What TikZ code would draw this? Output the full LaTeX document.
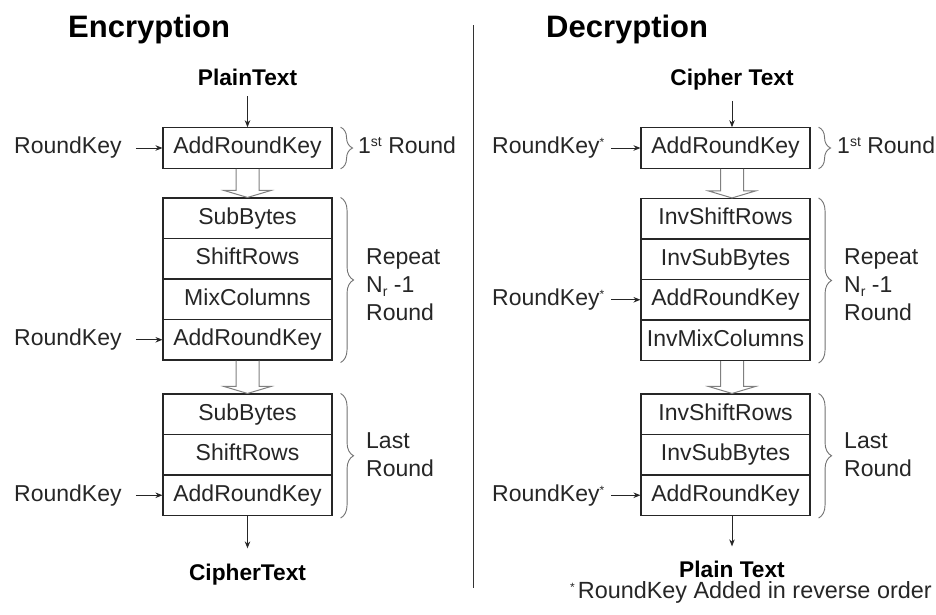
\documentclass[tikz,border=0pt]{standalone}
\usepackage{fontspec}
\setmainfont{Liberation Sans}
\usetikzlibrary{arrows.meta,decorations.pathreplacing,calc}
\newcommand\hollowarrow[3]{\path[hollow] let \p1=(#1), \p2=(#2), \p3=(#3) in
  (\x3-11.5pt,\y1) -- (\x3-11.5pt,\y2+7pt) -- (\x3-23.5pt,\y2+7pt) -- (\x3,\y2)
  -- (\x3+23.5pt,\y2+7pt) -- (\x3+11.5pt,\y2+7pt) -- (\x3+11.5pt,\y1);}
\newcommand\supst{\raisebox{7pt}{\fontsize{14}{14}\selectfont st}}
\newcommand\subr{\raisebox{-4pt}{\fontsize{14}{14}\selectfont r}}
\newcommand\keystar{\raisebox{7pt}{\fontsize{12}{12}\selectfont *}}
\begin{document}
\begin{tikzpicture}[x=1pt,y=-1pt,
  every node/.style={font=\fontsize{23}{28}\selectfont, text=black!85},
  stage/.style={draw=black!85, line width=1.1pt, minimum width=169pt, minimum height=40.5pt,
    inner sep=0pt, text height=16.5pt, text depth=4.8pt},
  arr/.style={-{Stealth[length=7pt,width=5.5pt]}, line width=0.9pt, draw=black!85},
  hollow/.style={draw=black!50, line width=1pt, line join=miter},
  brc/.style={decorate, decoration={brace, amplitude=#1}, draw=black!55, line width=0.9pt},
  brc/.default=13pt,
  title/.style={font=\fontsize{31}{36}\selectfont\bfseries, text=black, anchor=base west, inner sep=0pt},
  io/.style={font=\fontsize{22.7}{27}\selectfont\bfseries, text=black, anchor=base, inner sep=0pt},
  lbl/.style={anchor=west, inner sep=0pt, text height=16.5pt, text depth=4.8pt},
  note/.style={anchor=west, inner sep=0pt, align=left},
]
\useasboundingbox (0,0) rectangle (936,614);
\fill[white] (0,0) rectangle (936,614);

% divider
\draw[line width=1pt, black!80] (473,25) -- (473,588);

% ---------------- Encryption ----------------
\node[title] (enct) at (68,37.5) {Encryption};
\node[io] (pt) at (247.5,85) {PlainText};
\node[stage] (e1) at (247.5,148) {AddRoundKey};
\node[stage] (e2a) at (247.5,218.25) {SubBytes};
\node[stage] (e2b) at (247.5,258.75) {ShiftRows};
\node[stage] (e2c) at (247.5,299.25) {MixColumns};
\node[stage] (e2d) at (247.5,339.75) {AddRoundKey};
\node[stage] (e3a) at (247.5,414.25) {SubBytes};
\node[stage] (e3b) at (247.5,454.75) {ShiftRows};
\node[stage] (e3c) at (247.5,495.25) {AddRoundKey};
\node[io] (ct) at (247.5,580) {CipherText};

\draw[arr, shorten <=11pt] (pt.south) -- (pt.south |- e1.north);
\draw[arr, shorten >=15pt] (e3c.south) -- (e3c.south |- ct.north);
\hollowarrow{e1.south}{e2a.north}{e1.south}
\hollowarrow{e2d.south}{e3a.north}{e2d.south}

\node[lbl] (rk1) at (14,148) {RoundKey};
\node[lbl] (rk2) at (14,339.75) {RoundKey};
\node[lbl] (rk3) at (14,495.25) {RoundKey};
\draw[arr, shorten <=14pt] (rk1.east) -- (e1.west);
\draw[arr, shorten <=14pt] (rk2.east) -- (e2d.west);
\draw[arr, shorten <=14pt] (rk3.east) -- (e3c.west);

\draw[brc=12pt] ($(e1.north east)+(8,0)$) -- ($(e1.south east)+(8,0)$);
\draw[brc] ($(e2a.north east)+(8,0)$) -- ($(e2d.south east)+(8,2)$);
\draw[brc] ($(e3a.north east)+(8,0)$) -- ($(e3c.south east)+(8,2)$);

\node[lbl] (r1) at (358,148) {1\supst{} Round};
\node[note] (rep1) at (366,285) {Repeat\\N\subr{} -1\\Round};
\node[note] (last1) at (366,455) {Last\\Round};

% ---------------- Decryption ----------------
\node[title] (dect) at (546,37.5) {Decryption};
\node[io] (cit) at (732,85) {Cipher Text};
\node[stage] (d1) at (725.5,148) {AddRoundKey};
\node[stage] (d2a) at (725.5,218.75) {InvShiftRows};
\node[stage] (d2b) at (725.5,259.25) {InvSubBytes};
\node[stage] (d2c) at (725.5,299.75) {AddRoundKey};
\node[stage] (d2d) at (725.5,340.25) {InvMixColumns};
\node[stage] (d3a) at (725.5,414.25) {InvShiftRows};
\node[stage] (d3b) at (725.5,454.75) {InvSubBytes};
\node[stage] (d3c) at (725.5,495.25) {AddRoundKey};
\node[io] (plt) at (732,577) {Plain Text};

\draw[arr, shorten <=11pt] (cit.south) -- (cit.south |- d1.north);
\draw[arr, shorten >=14pt] (d3c.south -| plt.north) -- (plt.north);
\hollowarrow{d1.south}{d2a.north}{cit.south}
\hollowarrow{d2d.south}{d3a.north}{cit.south}

\node[lbl] (rk4) at (492,148) {RoundKey\keystar};
\node[lbl] (rk5) at (492,299.75) {RoundKey\keystar};
\node[lbl] (rk6) at (492,495.25) {RoundKey\keystar};
\draw[arr, shorten <=7pt] (rk4.east) -- (d1.west);
\draw[arr, shorten <=7pt] (rk5.east) -- (d2c.west);
\draw[arr, shorten <=7pt] (rk6.east) -- (d3c.west);

\draw[brc=12pt] ($(d1.north east)+(8,0)$) -- ($(d1.south east)+(8,0)$);
\draw[brc] ($(d2a.north east)+(8,0)$) -- ($(d2d.south east)+(8,2)$);
\draw[brc] ($(d3a.north east)+(8,0)$) -- ($(d3c.south east)+(8,2)$);

\node[lbl] (r2) at (837,148) {1\supst{} Round};
\node[note] (rep2) at (844,285) {Repeat\\N\subr{} -1\\Round};
\node[note] (last2) at (844,455) {Last\\Round};

\node[anchor=base west, inner sep=0pt, font=\fontsize{23.4}{28}\selectfont] (fn) at (570,598.5) {\keystar\kern3pt RoundKey Added in reverse order};
\end{tikzpicture}
\end{document}
